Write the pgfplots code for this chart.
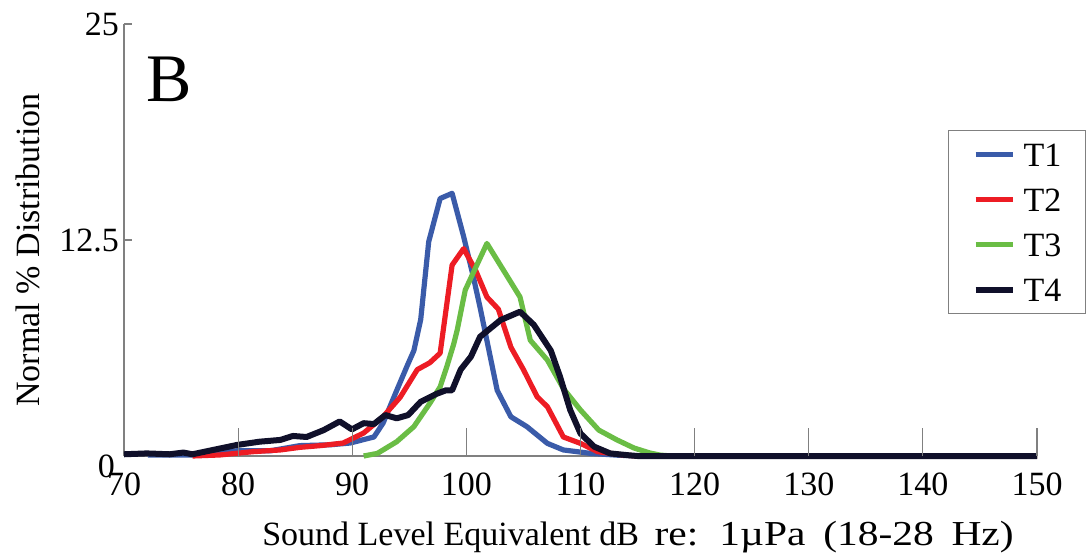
\documentclass[border=0pt]{standalone}
\usepackage{fontspec}
\setmainfont{Liberation Serif}
\usepackage{graphicx}
\usepackage{pgfplots}
\pgfplotsset{compat=1.18}
\definecolor{cT1}{HTML}{3A5BA9}
\definecolor{cT2}{HTML}{ED1C24}
\definecolor{cT3}{HTML}{6ABD45}
\definecolor{cT4}{HTML}{10102A}
\begin{document}
\begin{tikzpicture}
\begin{axis}[
  scale only axis, width=456.5pt, height=216pt,
  xmin=70, xmax=150, ymin=0, ymax=25,
  axis x line*=bottom, axis y line*=left,
  axis line style={gray, line width=0.6pt},
  xtick={70,80,...,150}, ytick={12.5,25},
  yticklabels={12.5,25},
  extra y ticks={0}, extra y tick labels={0},
  extra y tick style={yticklabel style={yshift=-5pt, xshift=-2pt}},
  tick align=inside, major tick length=4pt,
  tick style={gray, line width=0.6pt},
  clip=false,
  /pgf/number format/assume math mode=true,
  ticklabel style={font=\fontsize{17}{20}\selectfont},
  yticklabel style={xshift=1pt},
  xticklabel style={yshift=-5pt},
  xlabel={Sound Level Equivalent dB\hspace{3.5pt} \scalebox{1.22}[1.03]{re:\hspace{3pt} 1µPa\hspace{3pt} (18-28\hspace{3pt} Hz)}},
  ylabel={Normal \% Distribution},
  every axis x label/.style={at={(axis description cs:0.563,-0.1875)}, anchor=center, font=\fontsize{17}{20}\selectfont},
  every axis y label/.style={at={(axis description cs:-0.105,0.477)}, rotate=90, anchor=center, font=\fontsize{17}{20}\selectfont},
  legend style={at={(axis description cs:0.9025,0.7546)}, anchor=north west,
    draw=gray, line width=0.6pt, font=\fontsize{17}{20}\selectfont,
    inner xsep=12pt, inner ysep=6pt, row sep=10.5pt, column sep=4pt,
    nodes={inner sep=0pt, text height=12pt, text depth=0pt},
    cells={anchor=west}},
  legend image code/.code={\draw[#1] (0pt,0pt) -- (18.5pt,0pt);},
  legend cell align=left,
]
\addplot[cT1, line width=2.6pt, line join=round] coordinates {
(72.1,0.05) (76,0.05) (78,0.2) (79.9,0.3) (82.8,0.3) (85.4,0.6) (88.1,0.65) (89.8,0.75) (91.9,1.1) (92.7,1.9) (93.9,3.8) (94.8,5.2) (95.4,6.1) (96,7.9) (96.7,12.4) (97.7,14.9) (98.75,15.2) (99.76,12.7) (100.6,10.4) (101.2,8.6) (102.7,3.8) (103.9,2.27) (105.3,1.7) (107.1,0.73) (108.5,0.35) (110.9,0.15) (113.2,0.05) (115,0) (150,0)
};
\addlegendentry{T1}
\addplot[cT2, line width=2.6pt, line join=round] coordinates {
(76,0) (78.4,0.06) (81.3,0.25) (83.7,0.35) (85.4,0.5) (87.2,0.6) (89.2,0.75) (91,1.33) (92.7,2.27) (94.2,3.4) (95.7,5.0) (96.8,5.4) (97.7,5.95) (98.75,11.05) (99.76,12.0) (100.8,10.76) (101.8,9.2) (102.8,8.5) (103.9,6.3) (105,5.0) (106.2,3.43) (107.1,2.85) (108.5,1.1) (110,0.73) (111.5,0.25) (113.8,0.05) (115,0) (150,0)
};
\addlegendentry{T2}
\addplot[cT3, line width=2.6pt, line join=round] coordinates {
(91,0) (92.2,0.15) (93.9,0.83) (95.4,1.7) (96.8,3.05) (97.7,4.0) (98.3,5.2) (98.9,6.5) (99.2,7.3) (99.9,9.6) (100.6,10.6) (101.8,12.3) (104.7,9.2) (105.6,6.7) (107.1,5.55) (108.5,3.9) (110,2.66) (111.6,1.5) (113.2,0.93) (114.7,0.46) (116.1,0.17) (117,0.05) (118,0) (150,0)
};
\addlegendentry{T3}
\addplot[cT4, line width=3pt, line join=round] coordinates {
(70,0.1) (72,0.15) (74,0.1) (75.2,0.2) (76,0.1) (77.8,0.35) (79.9,0.64) (81.9,0.83) (83.7,0.93) (84.8,1.16) (86,1.1) (87.5,1.5) (88.9,2.0) (89.97,1.54) (91,1.9) (91.9,1.85) (92.9,2.37) (93.9,2.18) (94.9,2.37) (96,3.14) (97.4,3.6) (98.2,3.8) (98.75,3.8) (99.5,5.0) (100.4,5.75) (101.2,6.9) (103,7.87) (104.7,8.35) (105.9,7.6) (107.4,6.1) (108.2,4.6) (109.1,2.66) (110,1.3) (111.2,0.54) (112.6,0.15) (114.1,0.05) (115,0) (150,0)
};
\addlegendentry{T4}
\pgfplotsinvokeforeach{80,90,...,150}{\draw[gray, line width=0.6pt] (axis cs:#1,0) -- ([yshift=14pt]axis cs:#1,0);}
\node[font=\fontsize{34}{38}\selectfont, inner sep=0pt] at (axis cs:74.0,21.8) {B};
\coordinate (O) at (rel axis cs:0,0);
\end{axis}
\pgfresetboundingbox
\path ([shift={(-62pt,-50.5pt)}]O) rectangle ([shift={(481pt,228pt)}]O);
\end{tikzpicture}
\end{document}
